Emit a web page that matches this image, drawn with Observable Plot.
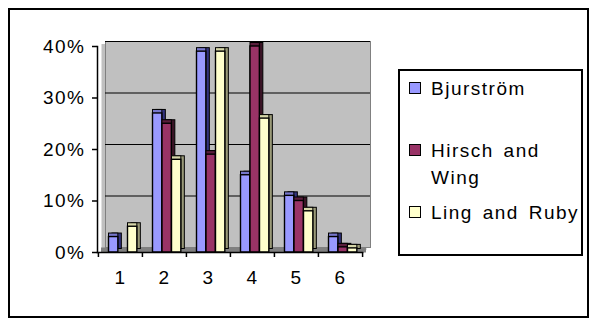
<!DOCTYPE html>
<html><head><meta charset="utf-8">
<script src="https://cdn.jsdelivr.net/npm/d3@7"></script>
<script src="https://cdn.jsdelivr.net/npm/@observablehq/plot@0.6"></script>
<style>
body{margin:0;background:#fff;font-family:"Liberation Sans",Arial,sans-serif;}
#wrap{position:relative;width:600px;height:327px;overflow:hidden;background:#fff;}
#border{position:absolute;left:8px;top:8px;width:577px;height:306px;border:2px solid #000;}
#chart{position:absolute;left:0;top:0;}
#legend{position:absolute;left:398px;top:69px;width:181px;height:183px;border:2px solid #000;background:#fff;}
.item{position:absolute;left:31px;width:150px;font-size:19px;letter-spacing:1.5px;word-spacing:3px;line-height:27px;color:#000;}
.sw{position:absolute;left:9px;width:10px;height:10px;border:1px solid #000;}
</style>
</head><body>
<div id="wrap"><div id="border"></div><div id="chart"></div><div id="legend"></div></div>
<script>
const categories = ["1","2","3","4","5","6"];
const series = ["Bjurström","Hirsch and Wing","Ling and Ruby"];
const bjurstrom = [0.03,0.27,0.39,0.15,0.11,0.03];
const hirschWing = [0.0,0.25,0.19,0.40,0.10,0.01];
const lingRuby = [0.05,0.18,0.39,0.26,0.08,0.008];
const yTicks = [0,0.1,0.2,0.3,0.4];
const fronts = ["#9999FF","#993366","#FFFFCC"];
const tops = ["#7777cc","#5a1e3c","#d6d6a8"];
const sides = ["#33337f","#3a1426","#9a9a78"];

const values = [bjurstrom, hirschWing, lingRuby];
const bw = 265/6;
const barW = 9.5, start = 10.5, depth = 3.5;

const barMarks = [];
values.forEach((arr, i) => {
  const rows = categories.map((c, j) => ({category: c, value: arr[j]}));
  const insetLeft = start + i*barW;
  const insetRight = bw - insetLeft - barW;
  barMarks.push(Plot.barY(rows, {x: "category", y: "value", fill: sides[i], stroke: "#000", strokeWidth: 1, insetLeft, insetRight, dx: depth, dy: -depth}));
  barMarks.push(Plot.barY(rows, {x: "category", y: "value", fill: tops[i], stroke: "#000", strokeWidth: 1, insetLeft, insetRight, dy: -depth}));
  barMarks.push(Plot.barY(rows, {x: "category", y: "value", fill: fronts[i], stroke: "#000", strokeWidth: 1.4, insetLeft, insetRight}));
});

const chart = Plot.plot({
  width: 600, height: 327,
  marginLeft: 97, marginRight: 238, marginTop: 46, marginBottom: 75,
  style: {fontFamily: "Liberation Sans, Arial, sans-serif", fontSize: "19px", letterSpacing: "1.5px", background: "transparent", overflow: "visible", color: "#000"},
  x: {domain: categories, padding: 0, label: null},
  y: {domain: [0, 0.4], label: null},
  marks: [
    Plot.frame({fill: "#c0c0c0", dx: 4, dy: -2.5}),
    Plot.frame({fill: "#c0c0c0", stroke: "#808080", dx: 8, dy: -5}),
    Plot.ruleY([0], {stroke: "#808080", strokeWidth: 5, dx: 4, dy: -2.5}),
    Plot.ruleY(yTicks.slice(1), {stroke: "#000", strokeWidth: 1, dx: 8, dy: -5}),
    ...barMarks,
    Plot.frame({anchor: "left", stroke: "#000", strokeWidth: 1.5}),
    Plot.frame({anchor: "bottom", stroke: "#000", strokeWidth: 1.5}),
    Plot.axisY({ticks: yTicks, tickFormat: d3.format(".0%"), tickSize: 5, tickPadding: 7, label: null, stroke: "#000", strokeWidth: 1.5}),
    Plot.axisX({tickSize: 0, tickPadding: 18, label: null}),
    Plot.axisX({tickSize: 5, tickFormat: () => "", label: null, dx: -bw/2, strokeWidth: 1.5}),
    Plot.axisX({ticks: ["6"], tickSize: 5, tickFormat: () => "", label: null, dx: bw/2, strokeWidth: 1.5})
  ]
});
document.getElementById("chart").appendChild(chart);

const legend = document.getElementById("legend");
const centers = [17, 79, 141];
series.forEach((name, i) => {
  const sw = document.createElement("div");
  sw.className = "sw";
  sw.style.top = (centers[i] - 6) + "px";
  sw.style.background = fronts[i];
  legend.appendChild(sw);
  const t = document.createElement("div");
  t.className = "item";
  t.style.top = (centers[i] - 13.5) + "px";
  t.textContent = name;
  legend.appendChild(t);
});
</script>
</body></html>
